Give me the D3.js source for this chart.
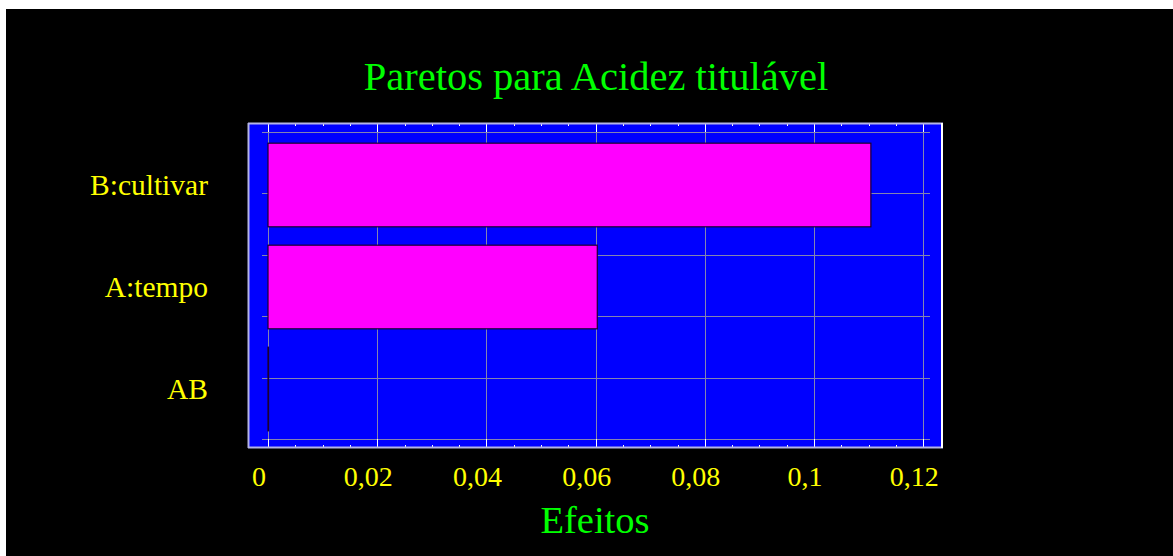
<!DOCTYPE html>
<html>
<head>
<meta charset="utf-8">
<script src="https://cdn.jsdelivr.net/npm/d3@7"></script>
<style>
html,body{margin:0;padding:0;background:#fff;}
svg{display:block;}
text{font-family:"Liberation Serif","Times New Roman",serif;}
</style>
</head>
<body>
<script>
const categories = ["B:cultivar", "A:tempo", "AB"];
const effects = [0.1104, 0.0603, 0.0001];
const xTicks = [0, 0.02, 0.04, 0.06, 0.08, 0.1, 0.12];
const xTickLabels = ["0", "0,02", "0,04", "0,06", "0,08", "0,1", "0,12"];
const title = "Paretos para Acidez titulável";
const xTitle = "Efeitos";

const W = 1173, H = 556;
const svg = d3.select("body").append("svg").attr("width", W).attr("height", H);

// background
svg.append("rect").attr("x", 6).attr("y", 9).attr("width", W - 6).attr("height", H - 9).attr("fill", "#000");

// plot frame
const frame = {x0: 248, x1: 943, y0: 123, y1: 448};
svg.append("rect").attr("x", frame.x0).attr("y", frame.y0)
  .attr("width", frame.x1 - frame.x0).attr("height", frame.y1 - frame.y0).attr("fill", "#0000ff");

const x = d3.scaleLinear().domain([0, 0.12]).range([268, 923.3]);
const y = d3.scaleBand().domain(categories).range([134, 440]).paddingInner(0.18).paddingOuter(0.09);
const yGrid = d3.scaleLinear().domain([0, 5]).range([439, 132]);

const gridColor = "#8484b0";

// horizontal grid lines
svg.append("g").selectAll("line").data(yGrid.ticks(5)).join("line")
  .attr("x1", 262).attr("x2", 930)
  .attr("y1", d => Math.round(yGrid(d)) + 0.5).attr("y2", d => Math.round(yGrid(d)) + 0.5)
  .attr("stroke", gridColor).attr("stroke-width", 1);

// vertical grid lines
svg.append("g").selectAll("line").data(xTicks).join("line")
  .attr("x1", d => Math.round(x(d)) + 0.5).attr("x2", d => Math.round(x(d)) + 0.5)
  .attr("y1", frame.y0).attr("y2", frame.y1)
  .attr("stroke", gridColor).attr("stroke-width", 1);

// bars
svg.append("g").selectAll("rect").data(categories).join("rect")
  .attr("x", x(0))
  .attr("y", d => y(d))
  .attr("width", (d, i) => Math.max(0, x(effects[i]) - x(0)))
  .attr("height", y.bandwidth())
  .attr("fill", "#ff00ff")
  .attr("stroke", "#1a0030").attr("stroke-width", 1.2);

// tick marks top and bottom
const minor = d3.range(0, 0.1201, 0.005);
const tg = svg.append("g").attr("stroke", "#ffffff");
tg.selectAll(".mt").data(minor).join("line")
  .attr("x1", d => Math.round(x(d)) + 0.5).attr("x2", d => Math.round(x(d)) + 0.5)
  .attr("y1", frame.y0).attr("y2", d => frame.y0 + (xTicks.some(t => Math.abs(t - d) < 1e-9) ? 9 : 3));
tg.selectAll(".mb").data(minor).join("line")
  .attr("x1", d => Math.round(x(d)) + 0.5).attr("x2", d => Math.round(x(d)) + 0.5)
  .attr("y1", frame.y1).attr("y2", d => frame.y1 - (xTicks.some(t => Math.abs(t - d) < 1e-9) ? 9 : 3));

// frame border
const bc = "#b4b4e6";
svg.append("line").attr("x1", frame.x0).attr("x2", frame.x1).attr("y1", frame.y0 + 0.5).attr("y2", frame.y0 + 0.5).attr("stroke", bc).attr("stroke-width", 2);
svg.append("line").attr("x1", frame.x0).attr("x2", frame.x1).attr("y1", frame.y1 - 0.5).attr("y2", frame.y1 - 0.5).attr("stroke", bc).attr("stroke-width", 2);
svg.append("line").attr("x1", frame.x0 + 0.5).attr("x2", frame.x0 + 0.5).attr("y1", frame.y0).attr("y2", frame.y1).attr("stroke", bc).attr("stroke-width", 2);
svg.append("line").attr("x1", frame.x1 - 1).attr("x2", frame.x1 - 1).attr("y1", frame.y0).attr("y2", frame.y1).attr("stroke", "#ffffff").attr("stroke-width", 2);

// x tick labels
svg.append("g").selectAll("text").data(xTicks).join("text")
  .attr("x", d => x(d) - 9).attr("y", 486)
  .attr("text-anchor", "middle").attr("fill", "#ffff00").attr("font-size", 28)
  .text((d, i) => xTickLabels[i]);

// category labels
svg.append("g").selectAll("text").data(categories).join("text")
  .attr("x", 208).attr("y", d => y(d) + y.bandwidth() / 2 + 10)
  .attr("text-anchor", "end").attr("fill", "#ffff00").attr("font-size", 29.5)
  .text(d => d);

// title
svg.append("text").attr("x", 596).attr("y", 90).attr("text-anchor", "middle")
  .attr("fill", "#00ff00").attr("font-size", 40.5).text(title);

// x axis title
svg.append("text").attr("x", 595).attr("y", 533).attr("text-anchor", "middle")
  .attr("fill", "#00ff00").attr("font-size", 38.5).text(xTitle);
</script>
</body>
</html>
